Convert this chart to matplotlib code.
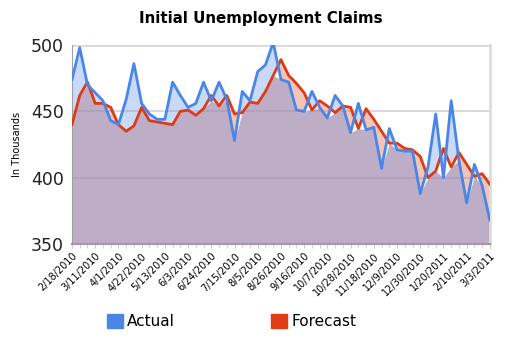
import matplotlib
matplotlib.use("Agg")
import matplotlib.pyplot as plt
import numpy as np
from matplotlib.patches import Patch

# weekly release dates, one label every third week
tick_labels = ["2/18/2010", "3/11/2010", "4/1/2010", "4/22/2010", "5/13/2010",
               "6/3/2010", "6/24/2010", "7/15/2010", "8/5/2010", "8/26/2010",
               "9/16/2010", "10/7/2010", "10/28/2010", "11/18/2010", "12/9/2010",
               "12/30/2010", "1/20/2011", "2/10/2011", "3/3/2011"]

actual = [474, 498, 470, 464, 458, 443, 440, 459, 486, 456,
          448, 444, 444, 472, 462, 453, 456, 472, 458, 472,
          459, 428, 465, 458, 480, 485, 502, 474, 472, 451,
          450, 465, 453, 445, 462, 454, 434, 456, 436, 438,
          407, 437, 421, 420, 420, 388, 408, 448, 400, 458,
          413, 381, 410, 394, 368]

forecast = [440, 462, 472, 456, 456, 453, 440, 435, 439, 453,
            443, 442, 441, 440, 450, 451, 447, 452, 462, 454,
            462, 448, 449, 457, 456, 465, 477, 489, 477, 471,
            464, 451, 458, 454, 449, 454, 453, 437, 452, 444,
            435, 426, 426, 422, 421, 416, 400, 405, 422, 408,
            419, 410, 401, 403, 395]

blue = "#4a86e8"
red = "#dd3b14"

x = np.arange(len(actual))
a = np.array(actual, dtype=float)
f = np.array(forecast, dtype=float)

fig = plt.figure(figsize=(5.27, 3.51), dpi=100)
ax = fig.add_axes([0.1366, 0.3048, 0.793, 0.567])

ax.fill_between(x, 350, np.minimum(a, f), color="#beadc6", lw=0, zorder=1)
ax.fill_between(x, f, a, where=a >= f, interpolate=True, color="#c9daf8", lw=0, zorder=1)
ax.fill_between(x, a, f, where=f >= a, interpolate=True, color="#f3c4b8", lw=0, zorder=1)

for v in [450, 400]:
    ax.axhline(v, color="#9a8aa2", lw=1.2, alpha=0.4, zorder=2)
ax.axhline(500, color="#d9d9d9", lw=2, zorder=2)

ax.plot(x, f, color=red, lw=2, zorder=3)
ax.plot(x, a, color=blue, lw=2, zorder=4)

ax.set_xlim(0, len(actual) - 1)
ax.set_ylim(350, 500)
ax.set_yticks([350, 400, 450, 500])
ax.tick_params(axis="y", length=0, labelsize=12.5, colors="#222222", pad=6)

ax.set_xticks(x[::3])
ax.set_xticklabels(tick_labels, rotation=45, ha="right", rotation_mode="anchor", fontsize=7)
ax.set_xticks(x, minor=True)
ax.tick_params(axis="x", which="both", length=3, color="#cccccc", pad=2)

ax.spines["top"].set_visible(False)
ax.spines["right"].set_color("#dddddd")
ax.spines["right"].set_linewidth(2)
ax.spines["left"].set_color("#a0a0a0")
ax.spines["bottom"].set_color("#a595ad")
ax.spines["bottom"].set_linewidth(1.5)

ax.set_ylabel("In Thousands", fontsize=7, labelpad=6)
fig.suptitle("Initial Unemployment Claims", x=0.495, y=0.968, fontsize=10.8, fontweight="bold")

handles = [Patch(color=blue, label="Actual"), Patch(color="#e03c16", label="Forecast")]
fig.legend(handles=handles, loc="center", bbox_to_anchor=(0.44, 0.083), ncol=2,
           frameon=False, fontsize=11, handlelength=1.0, handleheight=1.0,
           handletextpad=0.3, columnspacing=6.3)

fig.savefig("out.png", dpi=100)
